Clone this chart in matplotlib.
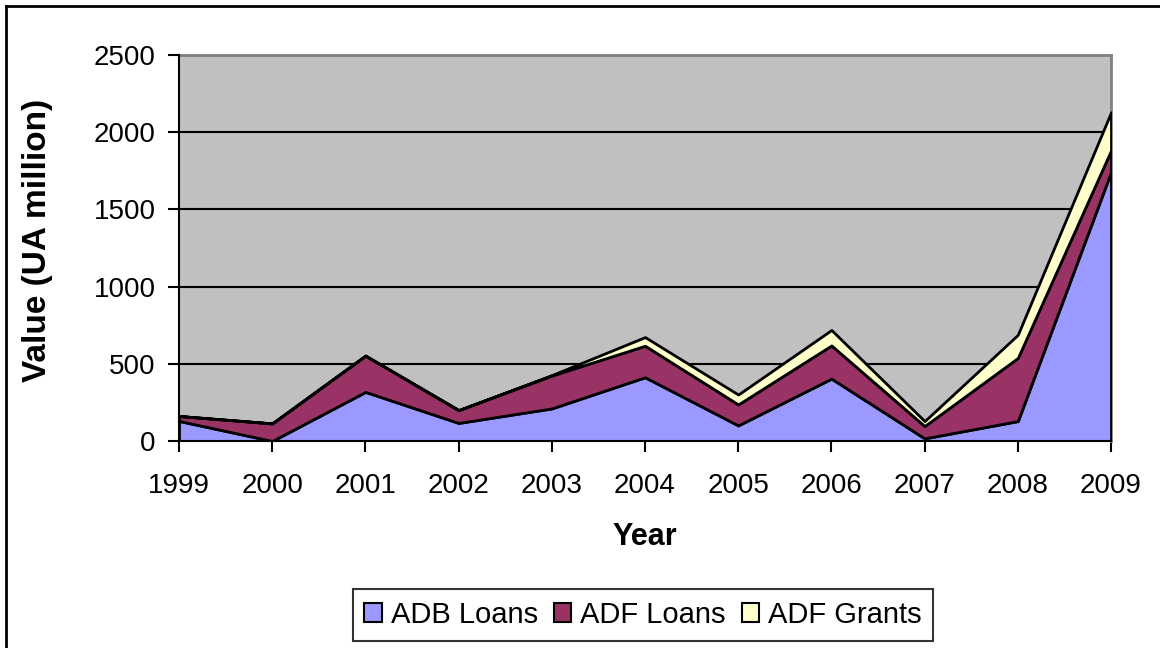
import matplotlib.pyplot as plt
from matplotlib.lines import Line2D

years = [1999, 2000, 2001, 2002, 2003, 2004, 2005, 2006, 2007, 2008, 2009]
adb_loans = [130, 0, 318, 117, 211, 413, 101, 404, 17, 129, 1742]
adf_loans = [32, 114, 235, 83, 213, 204, 136, 215, 80, 409, 140]
adf_grants = [0, 0, 0, 0, 3, 56, 64, 100, 32, 150, 247]
series_names = ['ADB Loans', 'ADF Loans', 'ADF Grants']
colors = ['#9999FF', '#993366', '#FFFFCC']

plt.rcParams['font.family'] = ['Liberation Sans', 'DejaVu Sans']

W, H = 1160, 648
fig = plt.figure(figsize=(W / 100, H / 100), dpi=100)
ax = fig.add_axes([179 / W, 1 - 441 / H, (1111 - 179) / W, (441 - 55) / H])

# Plot area background and gridlines
ax.set_facecolor('#C0C0C0')
ax.set_axisbelow(True)
ax.yaxis.grid(True, color='black', linewidth=1.5)

ax.stackplot(years, adb_loans, adf_loans, adf_grants, colors=colors,
             edgecolor='black', linewidth=2, labels=series_names, zorder=3)

ax.set_xlim(years[0], years[-1])
ax.set_ylim(0, 2500)
ax.set_xticks(years)
ax.set_yticks(range(0, 2501, 500))
ax.tick_params(axis='both', direction='out', length=8, width=1.5, labelsize=20)
ax.tick_params(axis='x', pad=15)
ax.tick_params(axis='y', pad=9)

for side in ['top', 'right']:
    ax.spines[side].set_color('#808080')
    ax.spines[side].set_linewidth(2)
for side in ['left', 'bottom']:
    ax.spines[side].set_color('black')
    ax.spines[side].set_linewidth(1.5)
    ax.spines[side].set_zorder(5)

# Axis titles
fig.text(38 / W, 1 - 240 / H, 'Value (UA million)', rotation=90,
         ha='center', va='center', fontsize=24, fontweight='bold')
fig.text(645 / W, 1 - 537 / H, 'Year', ha='center', va='center',
         fontsize=22, fontweight='bold')

# Legend below the chart
leg = fig.legend(loc='center', bbox_to_anchor=(643 / W, 1 - 615 / H), ncol=3,
                 fontsize=21, frameon=True, fancybox=False, edgecolor='black',
                 handlelength=0.6, handleheight=0.6, handletextpad=0.3,
                 columnspacing=0.55, borderpad=0.4, borderaxespad=0)
leg.get_frame().set_linewidth(1.5)
for h in leg.legend_handles:
    h.set_edgecolor('black')
    h.set_linewidth(1.5)

# Outer chart border (left and top edges visible)
fig.add_artist(Line2D([6 / W, 6 / W], [0, 1 - 6 / H],
                      transform=fig.transFigure, color='black', linewidth=2))
fig.add_artist(Line2D([6 / W, 1], [1 - 6 / H, 1 - 6 / H],
                      transform=fig.transFigure, color='black', linewidth=2))

fig.savefig('out.png', dpi=100)
